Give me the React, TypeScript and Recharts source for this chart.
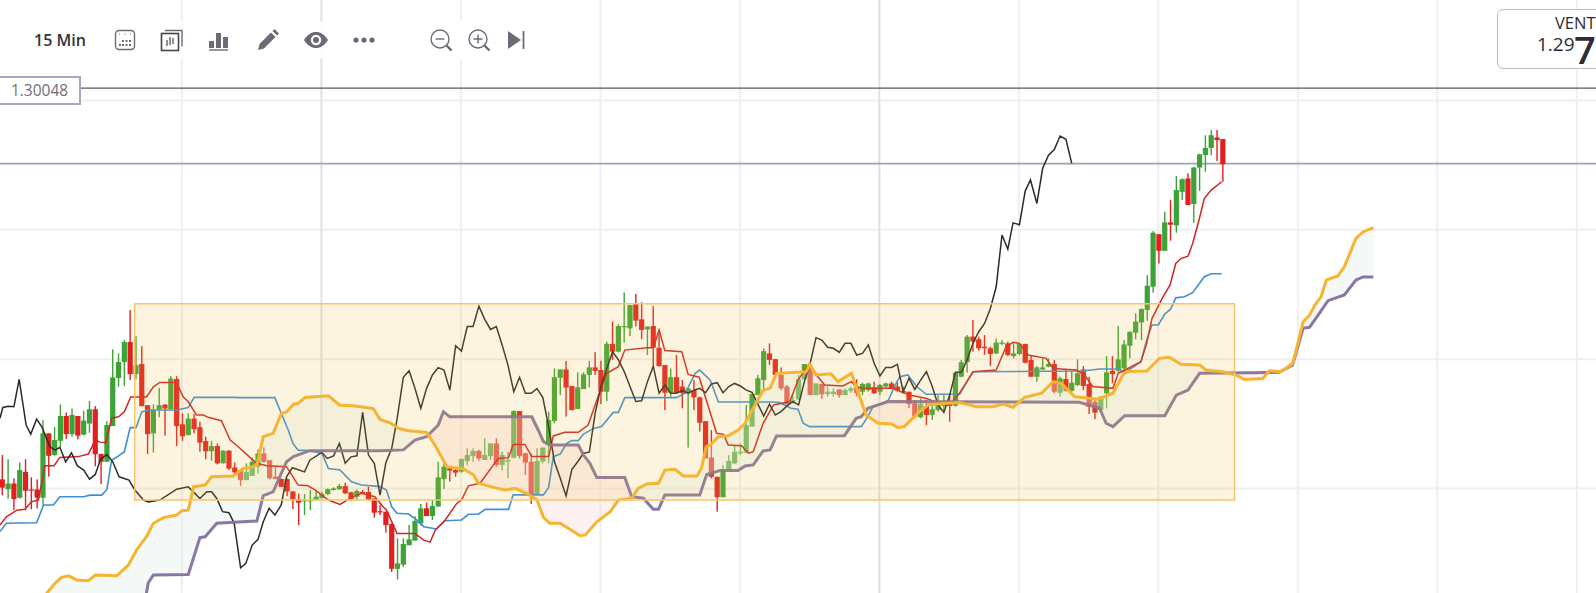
import React from "react";
import { ComposedChart, Bar, Line, Area, XAxis, YAxis, ReferenceLine, ReferenceArea } from "recharts";

// All levels are pips above this base price.
const BASE_PRICE = 1.28;
const price = (pips: number) => BASE_PRICE + pips / 10000;

const opens = [
53.5,49.7,51.9,46.4,56.4,49.6,49.6,46.4,71.3,62.9,
68.4,78,71,78,70.8,75.1,80.6,63.3,60.3,74.1,
92.7,98.9,106.6,94.2,98.1,82.2,71.3,80.6,82.4,80.7,
92.3,74.8,70.6,77,73.7,68.3,64.4,66.4,59.7,64.6,
58.1,57.1,53.2,54.8,58.4,63.5,60.9,54.5,53.6,53.6,
48.8,45.7,45,45,45.5,46.3,47.8,49.4,49.7,50.9,
48.5,46.8,48.7,48.6,46.1,41.2,41,36.2,18.9,20.5,
28,29.8,36.5,42.3,39.3,43,53.6,57.8,57.1,56.5,
60.6,62.5,64.5,61,62.5,67.4,59.1,60.4,61.9,79.9,
63.6,60.3,47.5,60.4,66.8,76.1,92.8,96,89.6,80.7,
88.4,93.9,96.8,95.8,87.4,105.9,102.9,112.6,111.9,121.3,
115.4,111.5,112.8,104.4,97.7,87,93,89.4,86.8,88,
85.2,76,61.9,54.5,46.6,57.1,59.7,63.6,63.8,73.9,
86.1,91.9,102.2,100,93.9,89.4,83.2,84.5,92.2,96.4,
86.1,90.4,86.5,86.5,88.3,86.1,87.8,89.1,87.4,88,
89.1,87.4,89.4,90.6,89.4,87.7,87.4,82.9,77.5,81.9,
78.4,80.3,81.9,83.2,82,93.2,98.8,108.7,107.7,104.8,
104.2,102.2,105.9,106.1,101.2,102,105.9,99.7,93.2,96,
97.1,98.1,87,92.3,87.7,90,96,90.4,83.5,80.3,
86.8,95.5,95.5,96.4,105.2,110.2,114.2,119,128,148.3,
141.9,152.9,151.7,164.7,169.9,160,174.1,178.9,181.7,185.7,
185.1];
const highs = [
62.9,61.3,53.9,60.1,61.3,54.3,53.5,76.4,71.3,73.8,
82.5,79.4,80.9,78,80,83.8,81.8,63.5,76,103.8,
102.2,107.4,119,108.9,105,82.2,82.5,88.8,82.6,93.4,
93.4,79,79,78.7,75.8,70,68.4,67.4,64.8,64.8,
60,57.5,59.7,61.9,65.1,65.9,60.9,58.4,53.9,53.9,
49,48,47.8,49.4,49.4,48.7,50,50.4,51.7,52.2,
48.7,49.6,49.4,50.6,46.1,43.6,41,36.5,30.7,30.7,
35.9,39.3,44,44.5,45.5,60.3,60.3,58.4,57.8,61.6,
65.5,65.5,64.9,69.4,67.4,69.4,64.2,64.2,80.3,79.9,
63.8,63.6,65.5,65.8,79.7,96.4,96,99.3,89.6,94.9,
94.9,99.3,102.7,99.4,106.8,114.5,113.5,125.8,120.9,125.2,
122,112.6,120.5,111.3,97.7,96.4,101.6,91.9,88.7,91.9,
85.5,76,72.6,54.5,59.1,62.9,66.8,67.4,82.3,86.8,
93.9,104.2,106.1,100,96.8,90,86.1,93.9,98.1,98.4,
90.6,90.4,89.4,88.7,88.3,88.7,89.4,92.2,90.9,90.9,
91.3,90.4,90.9,91.3,91.3,89.4,87.4,84.2,84.8,84.2,
82.3,86.1,86.1,86.1,94.8,99.7,109.3,115.1,108.7,109.3,
104.8,108,107.4,106.8,106.1,106.1,105.9,101.6,97.3,100.3,
100.3,99.7,93.2,95.8,95.1,99.9,97.3,93.2,84.2,85.5,
101.2,101.2,112.8,107.4,110.6,117.7,119.6,132.5,149.5,148.3,
157,161.5,170.8,169.9,171.8,174.4,179.5,186.6,188.6,188.6,
185.1];
const lows = [
47.4,46.1,41.6,46.1,41.6,41.9,42.3,43.6,54.5,62.6,
66.1,69.1,70,69,70.5,71.5,58.6,51.7,60.3,74.1,
89.3,89.6,91.9,92.2,81.8,63.3,63.9,77.5,70.4,80.6,
66.4,68.4,70.6,71.3,64.2,61.3,60.7,59.3,59.7,57.1,
55.2,51,53.2,54.8,55.8,60,53.5,53.6,50.6,47,
42,35.8,39.7,41.6,45.5,46.1,47.4,49.1,49.4,47.8,
45.2,45.5,47.8,45.2,38.7,39.7,32.9,17.7,14.8,19.5,
28.1,29.8,35.6,39.7,37.8,43,49.8,52.6,54.5,56.1,
59.1,60.3,60.7,61,61,58.4,56.9,53.9,61.6,61.6,
55.2,44,47.5,59.7,59.7,75.2,86.1,77.8,80.1,80.7,
88.7,89.1,93.9,82.6,83.8,99.7,102.6,106.4,108.9,112.6,
107.7,101.6,97.7,97.1,80.3,85.5,86.8,81,65.8,80.3,
72,61.6,53.9,41,46.6,57.1,59.4,62.9,63.6,73.9,
86.1,87.4,97.7,93.9,88,82.3,82.9,84.2,91.9,86.1,
86.1,84.6,85.5,85.5,85.1,86.1,87,85.5,86.1,87.4,
86.5,86.1,88.7,88.3,87.4,86.8,81,77.1,77.1,74.5,
76.5,79.7,79.7,75.8,81.6,93,94.8,102.9,103.3,101.6,
97.3,102,105.5,101.2,100.3,101.6,98.4,93.2,91.3,95.8,
96.8,86.8,85.5,87.4,87.4,89.6,88,78.8,76.8,80.3,
81,90.6,94.5,95.8,100.3,107.7,107.4,114.8,125.7,137,
141.9,145.8,148.9,161.5,159.6,152.7,165.1,172.5,178.9,176.6,
168.6];
const closes = [
50.3,51.9,45.9,57.1,49.1,49.1,46.4,71.3,62.6,68.7,
78,71,78.4,70.4,76.2,80.6,63.2,60.3,74.5,92.9,
98.9,106.6,94.2,97.7,81.8,71,80.3,82.2,80.9,92.5,
74.1,70.2,77,72.9,67.7,64.4,66.4,59.7,64.6,57.7,
56.2,53.2,56.4,60.3,63.5,60.3,53.9,53.6,50.6,48.8,
45.7,44.5,45.5,45.5,46.8,47.8,49.7,50,51,48.1,
45.7,49,48.1,45.7,40.6,40.7,35.8,18.9,21,28.5,
30.3,37.4,42.3,39.3,43.2,54.3,58.4,56.9,56.1,61.4,
62.9,64.5,61.6,62.9,67.4,59.1,62.9,61,79.9,62.5,
60,47.5,60.6,65.8,76.5,93,96,89,80.3,89.1,
94.1,96.8,95.4,87.4,105.9,102.9,112.8,112.8,120.9,114.9,
111.3,112.6,104.4,97.3,87,93,87,86.8,88.7,85.2,
75.4,61.6,54.5,46.6,57.1,60.6,64.2,64.2,74.5,86.5,
92.6,103.1,99.7,93.9,88.7,82.6,84.2,92.2,98.1,86.1,
90.6,86.4,87.4,87.4,86.1,88,88.7,86.8,90.4,90.6,
86.8,90,90.6,88.7,87.8,87,82.6,77.8,82.6,78.4,
80.6,82.3,82.5,81.9,94.8,98.8,108.7,106.8,104.2,104.2,
102,106.4,106.4,101.6,102.2,105.9,98.6,93.2,96.8,96.8,
98.1,87.4,92.6,87.7,90.9,94.5,89.6,81.6,79.3,85.5,
94.9,94.2,99.9,105.7,110.6,114.5,119.4,128.4,148.9,141.9,
152.9,152,165.4,169.6,159.6,174.1,179.2,181.7,186.6,184.7,
175.4];

const tenkanIdx = [-0.4,0.7,2.5,3.9,5,6.2,7,7.3,8.9,9.9,13.1,14.8,16,16.8,17.8,18.8,20,21,22.1,24.8,26,27.1,30,31.1,32,33.4,34.6,35.4,37.7,39.2,40.6,42.6,43.8,45.5,48.9,50.9,52.6,53.8,56.1,58.1,59.8,61.8,64.1,65.5,66.1,67.9,71,72.5,73.6,74.5,76.2,78.2,79,80.2,81.6,82.2,84.5,85.4,87.1,87.9,89.9,91.1,94,94.8,96.8,99.1,100.8,102.8,104,106,107.1,110.9,112,113,114,116.9,118,119.9,122.9,124.1,124.9,127.2,128.4,129.2,130.9,132.7,135.5,136.9,138.9,140.3,141.5,144.6,146.1,146.9,148.1,153.2,156.1,159,161.3,163,164.7,167,171,172.7,173.9,175,176.5,179.6,180.8,184.8,186.2,187.6,191.1,192,192.8,195.9,196.9,197.8,199.7,200.9,201.9,202.8,204,204.8,205.9,206.8,208,209.8];
const tenkan = [35.8,39,41.6,41.9,44.8,45.5,54.5,58.8,58.8,62,62.3,63.3,68.7,67.9,67.7,77.1,77.7,79.6,85.4,85.4,89.3,91,91,85.4,83.5,78.4,78.4,77.5,76.2,68.7,66.1,62,59.7,58.8,58.4,51.3,51,49.4,45.5,43.8,46.1,48.1,46.8,42.9,41.7,32.6,32.6,30,29.2,33.9,37.8,44.2,45.5,51,51.7,52,59.1,61.6,61.9,67,67,62.3,62.3,70.3,71.7,71.7,74.5,87.4,94.5,97.1,103.5,104.4,104.4,111.3,103.3,102.9,94.1,93,71.3,70.9,66.8,66.5,63.6,64.2,75.2,82.3,83.6,91.9,98.4,93.2,90,89.6,91.3,89.4,88.7,88.7,86.1,84.8,82.9,82.3,86.8,95.1,95.8,104.8,106.5,106.1,101.6,100.3,96.4,95.8,93.9,89.4,88.7,94.5,95.4,99,106.1,115.7,124.1,128.6,137,138.9,139.8,144.7,153.8,162.1,165.4,168.6];

const kijunIdx = [-0.4,0.7,5.9,7.1,8.8,9.9,14,15.1,17.1,18,18.8,20,21,22,23,24,25.1,30,32,33,39.7,40.9,46.9,48,49.2,50,50.9,52.9,55,56.1,58.1,60.1,61.8,65,66.1,67,67.9,69.9,71.3,72.5,74.7,76.2,79,80.2,81.9,83.1,87.1,87.9,93.1,94,94.8,96,97.1,98,99.1,100,101.7,103.1,105.1,106,107.1,116,117.5,119.2,120,121.8,123.2,132.4,133.7,135.7,136.9,137.8,138.9,147.8,148.9,149.8,152.4,153.5,154.4,155.8,157.3,159,164.7,167,185.9,188.8,192.2,192.8,194.2,195.9,196.9,197.8,198.9,200,201,201.9,203.4,204.8,206.8,208,209.8];
const kijun = [33.3,36.5,36.7,43.6,43.6,46.8,46.8,47.4,47.4,49.6,60.9,62.6,64.2,73.5,73.5,79.6,80.3,80.3,81.3,85.2,85.2,85.1,85.1,79,72.6,67.4,64.8,64.6,63.5,57.7,57.1,52.6,51.3,50.7,49.4,42.9,40.4,40.1,37.8,35.2,34.3,37.5,37.8,40,40,41.9,41.9,47.5,47.5,50.4,62.3,63.3,67.4,68.5,68.5,71,73.2,73.9,79.4,79.4,85.1,85.1,86.8,94.5,95.8,91.9,83.4,83.4,83.2,81,80.6,75.2,73.9,73.9,77.7,81.6,83.9,89.4,93.2,93.9,89.4,86.4,86.4,95.1,95.4,96.2,96.2,95.1,96.4,99,107.4,113.2,113.2,117.4,119.3,123.7,124.1,125.7,131.9,133,133];

const chikouIdx = [-0.4,0.1,1,2,2.9,4.1,4.9,5.9,6.8,8.2,9.1,9.9,10.9,11.9,12.9,14,15,16,16.9,18,19,20.1,21.8,22.8,24.3,25.1,27.1,30,32,34,35.2,36,36.9,37.9,39,39.9,41,41.9,43,44,44.9,45.9,46.9,48,48.9,49.9,52,52.9,55,55.9,57,58,59,60,61,62,63,64,65,66,67,67.9,69,70,71,72,73,74,75,76,77,78,79,80,81,82,83,84,85,86,87,88,89,90,91,92,93,94,95,96,97,98,99,100,101,102,103,104,105,106,107,108,109,110,111,112,113,114,115,116,117,118,119,120,121,122,123,124,125,126,127,128,129,130,131,132,133,134,135,136,137,138,139,140,141,142,143,144,145,146,147,148,149,150,151,152,153,154,155,156,157,158,159,160,161,162,163,164,165,166,167,168,169,170,171,172,173,173.9,175,176,176.9,178,179,180,181,182,183,184];
const chikou = [77.1,81.3,81.8,81.6,92.2,74.5,71,76.8,73.8,66.1,64.8,65.9,60.3,63.8,58.8,57.1,53.6,55.4,61.3,63.1,60.3,54.5,53.2,49.4,45.5,44.8,45.5,49.7,50.6,46.1,48.7,48.7,46.1,41,40.6,36.5,19.3,21,28.1,30.3,37.1,42.3,39.7,43.6,54.5,58,56.4,60.9,63.9,61.6,62.6,67.4,59.7,62.2,62.6,79.4,62.9,59.7,47.4,60,65.5,76.5,93,95.5,88.7,81,88.7,93.9,96.7,95.8,88,105.2,103.1,112.6,112.6,120.5,115.4,111.5,112.6,105.5,97.7,87.4,93,86.8,86.8,88.6,85.1,73.9,60.3,53.9,47.1,57.4,60.3,63.6,64,79,89.4,96.4,102.9,99.7,95.2,89.4,83.6,83.9,91.3,97.3,86.8,90,86.8,86.8,87.8,86.8,88,88.7,87,90.4,90.9,87,89.4,90.6,89.6,88,87.2,82.6,78,82.6,78.4,79.7,81.9,83.6,82.3,91.3,98.4,108.3,107.4,104.6,104.2,102.6,106.1,106.1,101.6,102.2,105.5,98.4,93.5,96.8,96.8,98,87.4,92.6,88.3,91.9,95.2,89.4,82.3,79.4,86.1,94.9,94.9,99.7,106.1,110.6,113.8,119.6,128,148,142.5,152.7,152,165.1,169.3,160.2,173.8,178.9,181.1,186.3,185,175.7];

const spanAIdx = [6.7,9.1,10.2,11.4,12.8,14.8,16,19.7,21.7,23.1,24.8,26,27.7,30,30.9,32,32.9,34.9,36,39.7,41.5,42.6,43.8,44.9,46.6,48,48.9,50.1,50.9,52.1,56.1,58.1,60.4,63.8,65,66.7,68.2,69.9,73,74.5,76.5,79.3,81.1,81.9,84.5,86.5,88.2,90.2,92,93.1,94.2,96,99.4,100.3,102.3,104.6,106,108.3,109.4,110.9,112.9,114,115.7,117.2,119.5,120.3,121.1,121.8,123.2,124.9,126.6,127.8,130.9,132.1,133.2,138.3,138.9,140,142.6,143.8,146.1,146.9,148.6,150.7,153,154.1,155.2,157.8,159.5,164.7,166.4,167.6,170.4,172.2,173.9,175.9,178.8,180.8,182.2,184.5,188.5,191.1,192.8,193.4,196.9,199.1,200.8,202.8,206,207.1,210,212.3,213.7,216.9,218,220,222,222.9,223.8,224.9,226,226.9,227.8,229.8,230.9,232.9,234.1,235.9];
const spanA = [6.8,13.4,15.6,16.2,14.6,14.3,16.5,16.2,20.4,26.2,31.3,36.5,38.7,39.7,41.4,41.6,50.6,51.3,54.5,54.8,57.7,58.1,59,70,71.3,79,79.6,82.6,82.9,85.2,85.8,82.2,82,80.9,76.7,75.4,73.2,72.3,71.7,66.5,58.4,57.5,55.2,52,50.4,49.4,50,48.1,45.5,38.8,36.5,36.5,31.7,32,37.1,41,45.5,46.2,50,51.7,52,57.1,57.4,54.8,54.8,57.8,66.2,66.8,70,70.4,72.6,75.2,88,88.7,94.5,95.1,98.1,93.9,94.3,91.3,94.5,89.4,78.4,75.2,74.9,73.5,73.9,79.7,82.5,83.2,82.3,81.6,81.6,82.6,81.4,85.2,86.8,91.3,90.6,85.5,84.5,86.8,93.9,95.2,95.4,100.3,100.7,98,97.7,95.8,95.1,93.8,92.1,92.5,95.5,95.1,98.3,106.1,114.4,117,121.5,124.1,130.6,132.2,135.7,146.7,149.2,150.9];

const spanBIdx = [6.7,24.3,25.1,26,32,34,34.9,36.9,43.8,44.9,46.6,48,48.9,50.1,52.9,65,69,71,73,75,75.9,77,91.1,92.2,93.1,94.2,99.1,100,101.1,102.3,107.1,108.3,110.3,112,112.9,114,120,121.2,123.5,126.6,127.8,129.2,130.9,132.1,133.2,144.9,146.9,147.8,148.9,151.5,152.4,185.3,188.8,189.9,191.1,193.1,200,202,204,206,219.7,222,223.8,224.9,226.6,228.1,230.9,232.9,234.1,235.9];
const spanB = [0,3,13.4,16.5,16.7,31,31.3,36.5,37.4,47.2,48.7,55.8,60.3,62.3,64.6,64.6,64.9,68.7,70,74.5,79.7,77.7,77.7,72.6,68.1,66.8,66.8,62.9,59.7,54.2,54.2,46.8,46.2,41.9,41.9,47.5,47.5,55.4,56.9,56.9,58.7,59.1,64.5,64.9,70.3,70.4,77.1,77.7,81,82.9,83.6,83.3,81,75.2,73.9,78.1,78.1,86.1,88,94.5,94.9,97.7,111.9,112.3,117.7,122.6,124.8,130.6,131.8,131.8];

const hLevels = [50, 100, 150, 200];
const vTicksLight = [30.9, 78.9, 102.9, 126.9, 174.9, 198.9, 222.9, 246.9, 270.9];
const vTicksDark = [54.9, 150.9];
const upperPriceLine = 204.8;
const lastPriceLine = 175.6;
const boxLeft = 22.78, boxRight = 212.03, boxTop = 121.4, boxBottom = 45.5;

const candleRows = opens.map((o, i) => ({ i, open: o, close: closes[i], high: highs[i], low: lows[i], range: [price(lows[i]), price(highs[i])] }));
const series = (idx: number[], vals: number[]) => idx.map((i, k) => ({ i, v: price(vals[k]) }));

// Value of a drawn polyline at index x, only used to close the cloud polygon between its two edges.
const at = (idx: number[], vals: number[], x: number) => {
  for (let k = 1; k < idx.length; k++) if (x <= idx[k]) {
    const t = (x - idx[k - 1]) / (idx[k] - idx[k - 1]);
    return vals[k - 1] + t * (vals[k] - vals[k - 1]);
  }
  return vals[vals.length - 1];
};
const cloudKnots = Array.from(new Set([...spanAIdx, ...spanBIdx])).sort((a, b) => a - b);
const withCrossings: number[] = [];
cloudKnots.forEach((x, k) => {
  if (k > 0) {
    const p = cloudKnots[k - 1];
    const d0 = at(spanAIdx, spanA, p) - at(spanBIdx, spanB, p);
    const d1 = at(spanAIdx, spanA, x) - at(spanBIdx, spanB, x);
    if (d0 * d1 < 0) withCrossings.push(p + (x - p) * (d0 / (d0 - d1)));
  }
  withCrossings.push(x);
});
const cloudRows = withCrossings.map((x) => {
  const a = at(spanAIdx, spanA, x), b = at(spanBIdx, spanB, x), top = Math.max(a, b);
  return { i: x, up: [price(b), price(top)], down: [price(a), price(top)] };
});

const Candle = (props: any) => {
  const { x, y, width, height, payload } = props;
  const { open, close, high, low } = payload;
  const cx = x + width / 2;
  const k = height / (high - low || 1);
  const top = y + (high - Math.max(open, close)) * k;
  const h = Math.max(Math.abs(open - close) * k, 1.2);
  const fill = close >= open ? "#3ca436" : "#e11f1f";
  return (
    <g>
      <rect x={cx - 0.7} y={y} width={1.4} height={height} fill={fill} />
      <rect x={cx - 2.6} y={top} width={5.2} height={h} fill={fill} />
    </g>
  );
};

const iconColor = "#6d6a78";
const Icon = ({ x, children }: { x: number; children: React.ReactNode }) => (
  <svg width={26} height={26} viewBox="0 0 26 26" style={{ position: "absolute", left: x - 13, top: 27 }}>{children}</svg>
);

export default function App() {
  return (
    <div style={{ position: "fixed", left: 0, top: 0, width: 1596, height: 593, overflow: "hidden", background: "#fff", fontFamily: "'Open Sans', sans-serif" }}>
      <ComposedChart width={1596} height={593} data={candleRows} margin={{ top: 0, right: 0, bottom: 0, left: 0 }}>
        <XAxis type="number" dataKey="i" domain={[-0.396, 274.2]} allowDataOverflow hide />
        <YAxis type="number" domain={[price(9.55), price(238.9)]} allowDataOverflow hide />
        {hLevels.map((l) => <ReferenceLine key={l} y={price(l)} stroke="#efefef" strokeWidth={2} zIndex={50} />)}
        {vTicksLight.map((t) => <ReferenceLine key={t} x={t} stroke="#efefef" strokeWidth={2} zIndex={50} />)}
        {vTicksDark.map((t) => <ReferenceLine key={t} x={t} stroke="#e0e0e0" strokeWidth={2} zIndex={50} />)}
        <ReferenceLine y={price(upperPriceLine)} stroke="#55555f" strokeWidth={1.4} zIndex={60} />
        <ReferenceLine y={price(lastPriceLine)} stroke="#9aa6b6" strokeWidth={1.6} zIndex={60} />
        <Bar dataKey="range" barSize={6} shape={<Candle />} isAnimationActive={false} zIndex={300} />
        <Area data={cloudRows} dataKey="up" stroke="none" fill="#e0efe8" fillOpacity={0.35} dot={false} activeDot={false} isAnimationActive={false} zIndex={350} />
        <Area data={cloudRows} dataKey="down" stroke="none" fill="#fad8d8" fillOpacity={0.35} dot={false} activeDot={false} isAnimationActive={false} zIndex={350} />
        <Line data={series(kijunIdx, kijun)} dataKey="v" stroke="#3c8fd6" strokeWidth={1.6} dot={false} activeDot={false} isAnimationActive={false} zIndex={400} />
        <Line data={series(tenkanIdx, tenkan)} dataKey="v" stroke="#d02424" strokeWidth={1.5} dot={false} activeDot={false} isAnimationActive={false} zIndex={400} />
        <Line data={series(chikouIdx, chikou)} dataKey="v" stroke="#2b2b2b" strokeWidth={1.5} dot={false} activeDot={false} isAnimationActive={false} zIndex={400} />
        <Line data={series(spanBIdx, spanB)} dataKey="v" stroke="#806b9b" strokeWidth={3} strokeOpacity={0.92} dot={false} activeDot={false} isAnimationActive={false} zIndex={410} />
        <Line data={series(spanAIdx, spanA)} dataKey="v" stroke="#f6b42f" strokeWidth={3} dot={false} activeDot={false} isAnimationActive={false} zIndex={420} />
        <ReferenceArea x1={boxLeft} x2={boxRight} y1={price(boxBottom)} y2={price(boxTop)} fill="#f3bd3a" fillOpacity={0.16} stroke="#f6c56a" strokeWidth={1.4} ifOverflow="visible" zIndex={1000} />
      </ComposedChart>

      {/* toolbar */}
      <div style={{ position: "absolute", left: 0, top: 21, width: 470, height: 38, background: "rgba(255,255,255,0.88)" }} />
      <div style={{ position: "absolute", left: 34, top: 29, fontSize: 16, fontWeight: 600, color: "#33333b", whiteSpace: "nowrap" }}>15 Min</div>
      <Icon x={125}>
        <rect x="3.5" y="3.5" width="19" height="19" rx="3.5" fill="none" stroke={iconColor} strokeWidth="1.4" />
        <path d="M7 7h1M12.5 7h1M18 7h1" stroke={iconColor} strokeWidth="1.2" />
        <path d="M10 13h2v2h-2zM13.5 13h2v2h-2zM17 13h2v2h-2zM7 17h2v2H7zM10 17h2v2h-2zM13.5 17h2v2h-2zM17 17h2v2h-2z" fill={iconColor} />
      </Icon>
      <Icon x={172}>
        <path d="M6 3.5h17v16" fill="none" stroke={iconColor} strokeWidth="1.4" />
        <rect x="2.5" y="6.5" width="17" height="17" fill="none" stroke="#44444c" strokeWidth="1.6" />
        <path d="M8 13v6M11 10v8M14 11v6" stroke="#44444c" strokeWidth="1.2" />
      </Icon>
      <Icon x={219}>
        <path d="M3 14h5v7H3zM10 6h5v15h-5zM17 10h5v11h-5z" fill={iconColor} />
        <path d="M3 23h19" stroke={iconColor} strokeWidth="1.4" />
      </Icon>
      <Icon x={268}>
        <path d="M3 23l1.5-6L16 5.5l4.5 4.5L9 21.5z" fill={iconColor} />
        <path d="M17.5 4l2-2 4.5 4.5-2 2z" fill={iconColor} />
      </Icon>
      <Icon x={316}>
        <path d="M1 13c3.5-5.5 7.5-8 12-8s8.5 2.5 12 8c-3.5 5.5-7.5 8-12 8s-8.5-2.5-12-8z" fill={iconColor} />
        <circle cx="13" cy="13" r="5.2" fill="#fff" />
        <circle cx="13" cy="13" r="3" fill={iconColor} />
      </Icon>
      <Icon x={364}>
        <circle cx="5" cy="13" r="2.6" fill={iconColor} />
        <circle cx="13" cy="13" r="2.6" fill={iconColor} />
        <circle cx="21" cy="13" r="2.6" fill={iconColor} />
      </Icon>
      <Icon x={441}>
        <circle cx="12" cy="12" r="9" fill="none" stroke={iconColor} strokeWidth="1.4" />
        <path d="M7.5 12h9" stroke={iconColor} strokeWidth="1.4" />
        <path d="M18.5 18.5l5 5" stroke={iconColor} strokeWidth="2.4" />
      </Icon>
      <Icon x={479}>
        <circle cx="12" cy="12" r="9" fill="none" stroke={iconColor} strokeWidth="1.4" />
        <path d="M7.5 12h9M12 7.5v9" stroke={iconColor} strokeWidth="1.4" />
        <path d="M18.5 18.5l5 5" stroke={iconColor} strokeWidth="2.4" />
      </Icon>
      <Icon x={516}>
        <path d="M5 4l13 9-13 9z" fill={iconColor} />
        <path d="M20.5 4v18" stroke={iconColor} strokeWidth="1.8" />
      </Icon>

      {/* price tag */}
      <div style={{ position: "absolute", left: -2, top: 76, width: 79, height: 25, border: "2px solid #a9a8bb", background: "#fff", color: "#6f6f78", fontSize: 15.5, lineHeight: "25px", textAlign: "center", boxSizing: "content-box" }}>1.30048</div>

      {/* sell box */}
      <div style={{ position: "absolute", left: 1497, top: 9, width: 140, height: 58, border: "1px solid #bcbcc2", borderRadius: 6, background: "#fff" }} />
      <div style={{ position: "absolute", left: 1555, top: 14, fontSize: 16.5, lineHeight: "18px", color: "#2d2d33", whiteSpace: "nowrap" }}>VENT</div>
      <div style={{ position: "absolute", left: 1537, top: 31, fontSize: 19, fontWeight: 500, color: "#2d2d33", whiteSpace: "nowrap" }}>1.29</div>
      <div style={{ position: "absolute", left: 1574, top: 34, fontSize: 38, lineHeight: "30px", fontWeight: 600, color: "#2d2d33", whiteSpace: "nowrap" }}>7</div>
    </div>
  );
}
